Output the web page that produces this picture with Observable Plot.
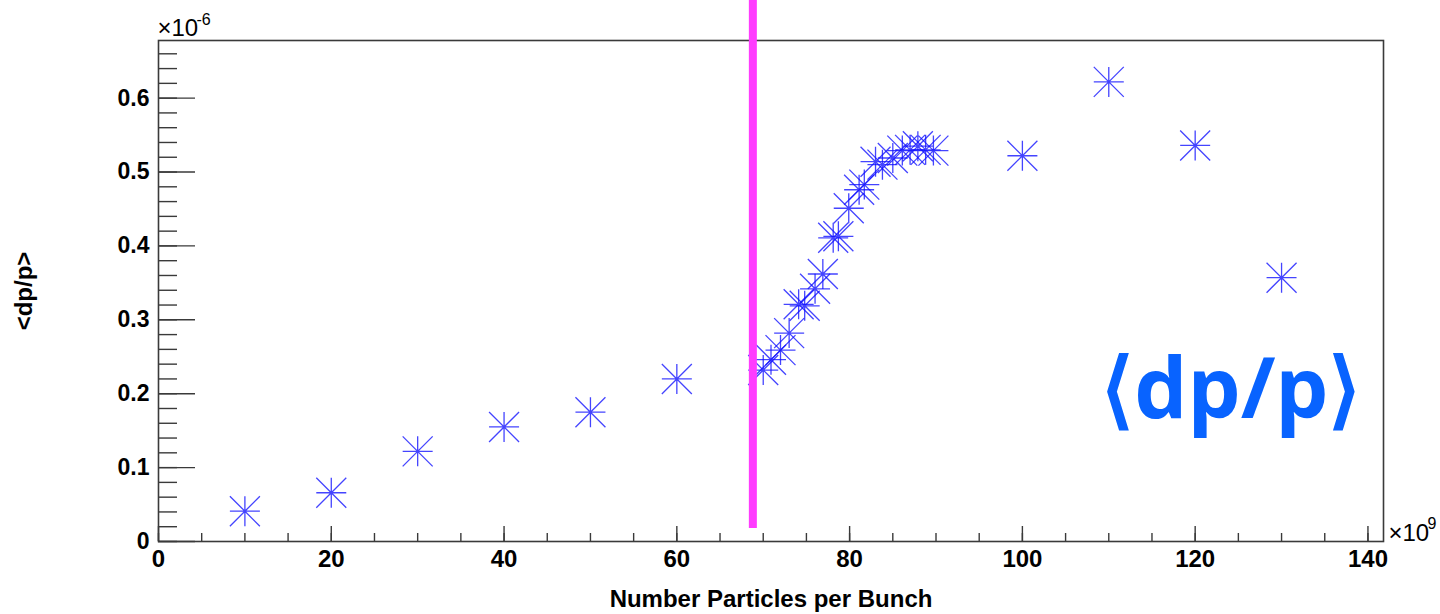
<!DOCTYPE html>
<html><head><meta charset="utf-8">
<script src="https://cdn.jsdelivr.net/npm/d3@7"></script>
<script src="https://cdn.jsdelivr.net/npm/@observablehq/plot@0.6"></script>
<style>html,body{margin:0;padding:0;background:#fff;overflow:hidden}</style>
</head><body><div id="chart"></div>
<script>
// Number of particles per bunch (units of 1e9)
const particles = [10, 20, 30, 40, 50, 60,
  70, 70.9, 72, 73, 74.1, 74.8, 76, 76.9, 78.1, 78.7, 79.9, 81.1, 81.7, 83, 83.8, 85, 86.1, 87, 87.9, 88.8, 89.7,
  100, 110, 120, 130];
// <dp/p> (units of 1e-6)
const dpOverP = [0.041, 0.066, 0.122, 0.155, 0.175, 0.220,
  0.232, 0.246, 0.259, 0.282, 0.321, 0.319, 0.342, 0.362, 0.411, 0.413, 0.451, 0.476, 0.483, 0.514, 0.510, 0.519, 0.529, 0.530, 0.535, 0.530, 0.529,
  0.522, 0.622, 0.536, 0.357];
const xTickLabels = [0, 20, 40, 60, 80, 100, 120, 140];
const yTickLabels = [0, 0.1, 0.2, 0.3, 0.4, 0.5, 0.6];
const xMinorTicks = d3.range(0, 141, 5);
const yMinorTicks = d3.range(0, 34).map(i => +(i * 0.02).toFixed(2));
const cutPosition = [68.8];
const cutRange = [0.0176, 0.733];
const xDomain = [0, 141.8];
const yDomain = [0, 0.678];
const legendText = ["\u27E8dp/p\u27E9"];
const xTitle = ["Number Particles per Bunch"];
const yTitle = ["<dp/p>"];

const points = particles.map((n, i) => ({n, v: dpOverP[i]}));

const star = {
  draw(ctx, size) {
    const r = Math.sqrt(size / Math.PI);
    ctx.moveTo(-r, 0); ctx.lineTo(r, 0);
    ctx.moveTo(0, -r); ctx.lineTo(0, r);
    ctx.moveTo(-r, -r); ctx.lineTo(r, r);
    ctx.moveTo(-r, r); ctx.lineTo(r, -r);
  }
};

const axisColor = "#3a3a3a";
const fontFam = "'Liberation Sans', Arial, Helvetica, sans-serif";

const chart = Plot.plot({
  width: 1440,
  height: 614,
  marginLeft: 158,
  marginRight: 57,
  marginTop: 40,
  marginBottom: 73,
  style: {fontFamily: fontFam, fontSize: "23px", fontWeight: "bold", color: "#000", background: "#fff"},
  x: {domain: xDomain, axis: null},
  y: {domain: yDomain, axis: null},
  marks: [
    Plot.frame({stroke: axisColor, strokeWidth: 1.6}),
    // y ticks (inward)
    Plot.axisY(yMinorTicks, {anchor: "left", tickSize: -19, fill: "none", stroke: axisColor, strokeWidth: 1.4, label: null}),
    Plot.axisY(yTickLabels, {anchor: "left", tickSize: -37, fill: "none", stroke: axisColor, strokeWidth: 1.4, label: null}),
    Plot.axisY(yTickLabels, {anchor: "left", tickSize: 0, tickPadding: 9, tickFormat: d => d === 0 ? "0" : d.toFixed(1), fontSize: 23, fontWeight: "bold", fill: "#000", label: null}),
    // x ticks (inward)
    Plot.axisX(xMinorTicks, {anchor: "bottom", tickSize: -8, fill: "none", stroke: axisColor, strokeWidth: 1.4, label: null}),
    Plot.axisX(xTickLabels, {anchor: "bottom", tickSize: -15, fill: "none", stroke: axisColor, strokeWidth: 1.4, label: null}),
    Plot.axisX(xTickLabels, {anchor: "bottom", tickSize: 0, tickPadding: 8, tickFormat: d => String(d), fontSize: 24, fontWeight: "bold", fill: "#000", label: null}),
    // data
    Plot.dot(points, {x: "n", y: "v", r: 15, symbol: star, fill: "none", stroke: "#1010ff", strokeWidth: 1.3, strokeOpacity: 0.78}),
    // cut line
    Plot.ruleX(cutPosition, {y1: cutRange[0], y2: cutRange[1], stroke: "#ff3cff", strokeWidth: 8}),
    // exponents
    Plot.text(["\u00D710"], {frameAnchor: "top-left", textAnchor: "start", lineAnchor: "middle", dx: -1, dy: -12, fontSize: 24, fontWeight: "normal", fill: "#000"}),
    Plot.text(["-6"], {frameAnchor: "top-left", textAnchor: "start", lineAnchor: "middle", dx: 38, dy: -21, fontSize: 16, fontWeight: "normal", fill: "#000"}),
    Plot.text(["\u00D710"], {frameAnchor: "bottom-right", textAnchor: "start", lineAnchor: "middle", dx: 5, dy: -8, fontSize: 24, fontWeight: "normal", fill: "#000"}),
    Plot.text(["9"], {frameAnchor: "bottom-right", textAnchor: "start", lineAnchor: "middle", dx: 44, dy: -18, fontSize: 16, fontWeight: "normal", fill: "#000"}),
    // axis titles
    Plot.text(xTitle, {frameAnchor: "bottom", textAnchor: "middle", lineAnchor: "middle", dy: 58, fontSize: 24, fontWeight: "bold", fill: "#000"}),
    Plot.text(yTitle, {frameAnchor: "left", textAnchor: "middle", lineAnchor: "middle", dx: -134, rotate: -90, fontSize: 24, fontWeight: "bold", fill: "#000"}),
    // legend label
    Plot.text(legendText, {frameAnchor: "bottom-right", textAnchor: "end", lineAnchor: "middle", dx: -22, dy: -150, fontSize: 84, fontWeight: "bold", fontFamily: "'Open Sans', 'Noto Sans', sans-serif", fill: "#0863ff"})
  ]
});
document.getElementById("chart").appendChild(chart);
</script>
</body></html>
